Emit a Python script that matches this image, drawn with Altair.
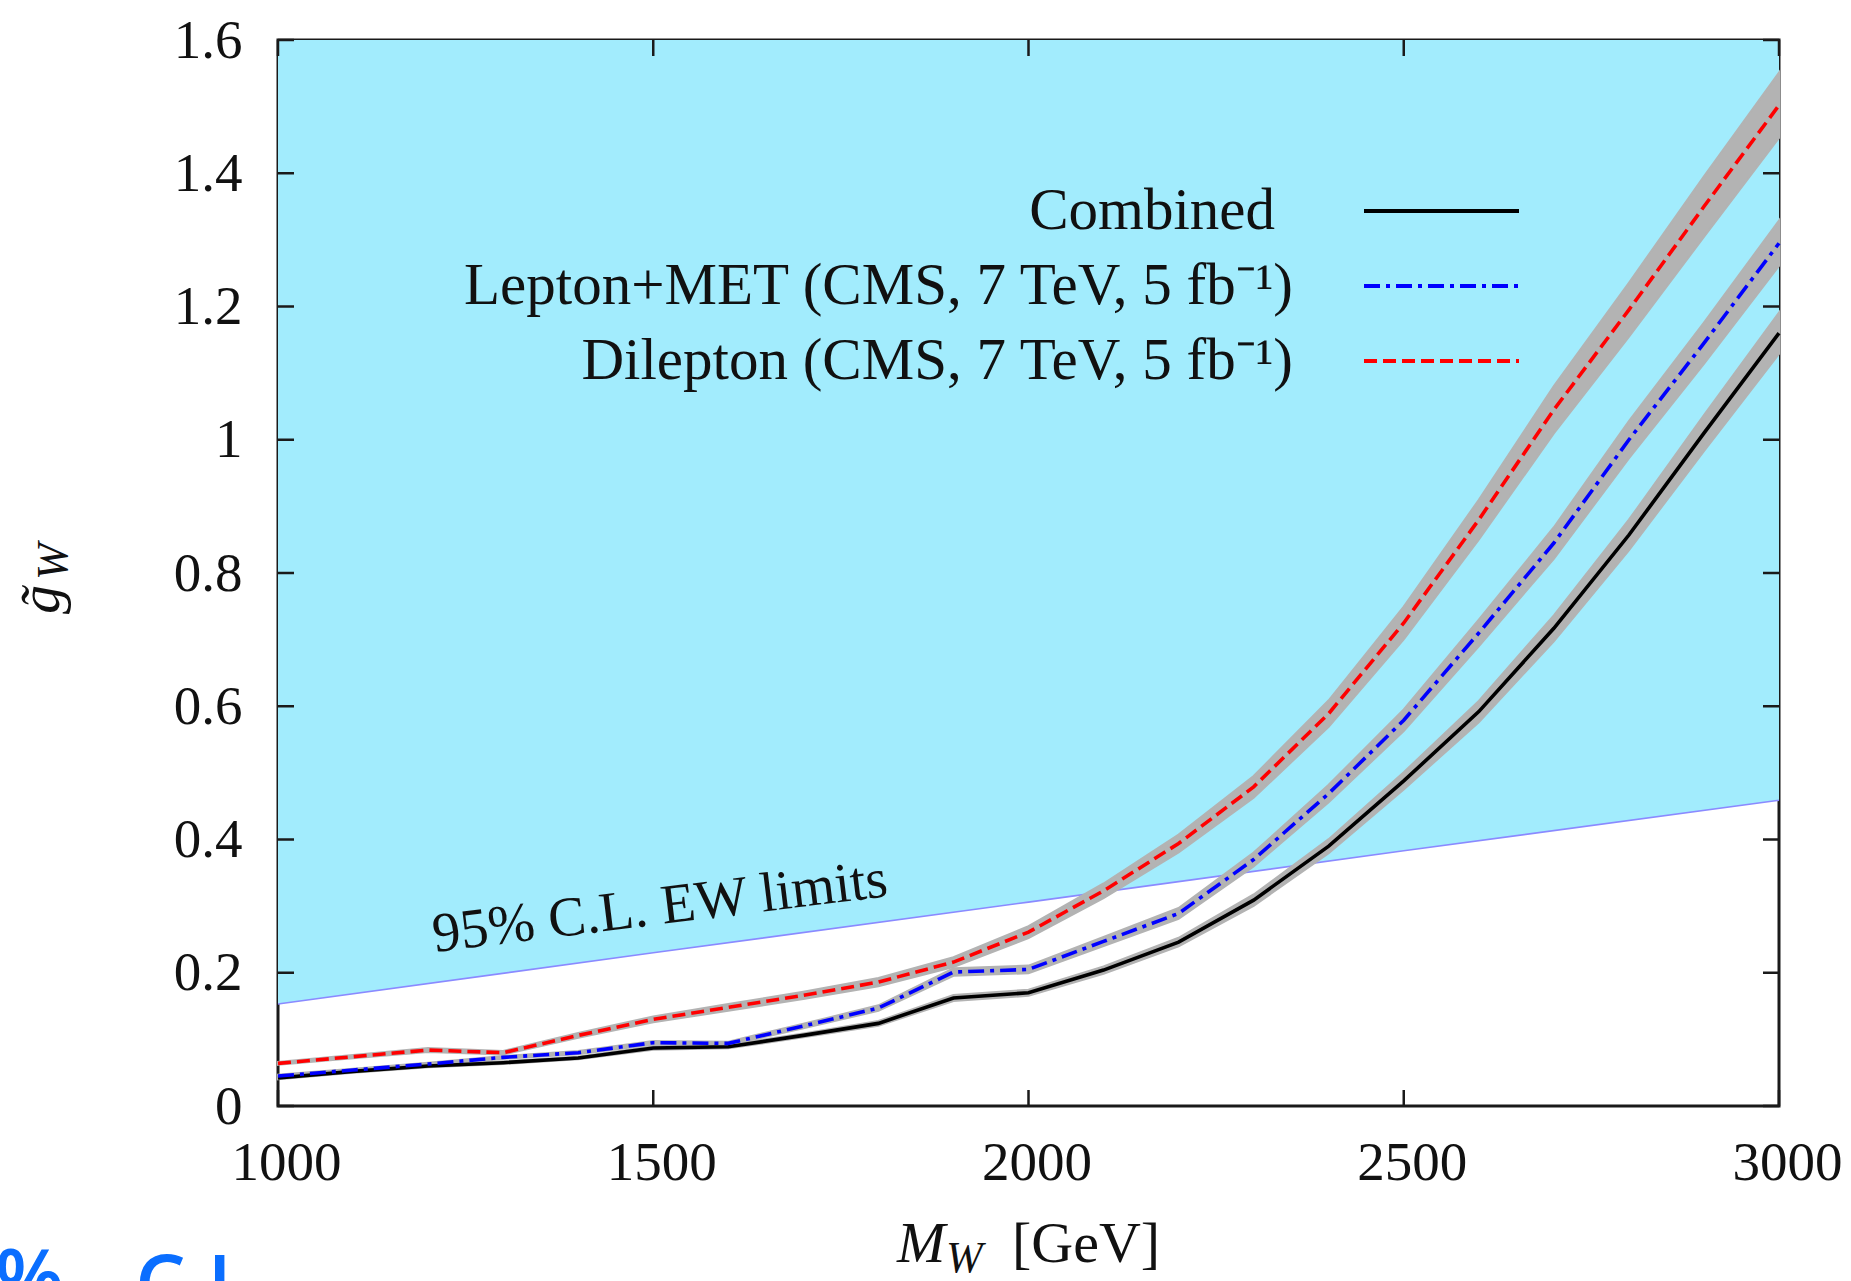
import altair as alt
import pandas as pd

# Resonance mass grid [GeV]
mass = [1000, 1100, 1200, 1300, 1400, 1500, 1600, 1700, 1800, 1900, 2000,
        2100, 2200, 2300, 2400, 2500, 2600, 2700, 2800, 2900, 3000]

# Upper limits on the coupling for each channel
combined = [0.042, 0.052, 0.060, 0.065, 0.072, 0.087, 0.089, 0.106, 0.124, 0.162, 0.170,
            0.204, 0.246, 0.309, 0.390, 0.488, 0.592, 0.717, 0.857, 1.010, 1.160]
lepton_met = [0.045, 0.054, 0.063, 0.073, 0.080, 0.095, 0.094, 0.120, 0.147, 0.201, 0.205,
              0.247, 0.289, 0.370, 0.469, 0.579, 0.710, 0.845, 1.000, 1.145, 1.295]
dilepton = [0.064, 0.074, 0.084, 0.080, 0.106, 0.130, 0.148, 0.166, 0.186, 0.216, 0.261,
            0.323, 0.394, 0.479, 0.589, 0.725, 0.880, 1.045, 1.195, 1.350, 1.502]

# Half-widths of the grey uncertainty bands
combined_err = [0.002, 0.002, 0.002, 0.002, 0.002, 0.0025, 0.0025, 0.003, 0.0035, 0.0045, 0.0045,
                0.0055, 0.0065, 0.0085, 0.0105, 0.013, 0.016, 0.0195, 0.023, 0.027, 0.031]
lepton_met_err = [0.002, 0.002, 0.002, 0.002, 0.0025, 0.0027, 0.0026, 0.0034, 0.0041, 0.0056, 0.0057,
                  0.0069, 0.0081, 0.0104, 0.0131, 0.0162, 0.0199, 0.0237, 0.028, 0.031, 0.034]
dilepton_err = [0.0022, 0.0025, 0.0029, 0.0027, 0.0036, 0.0044, 0.005, 0.0056, 0.0063, 0.0073, 0.0089,
                0.011, 0.0134, 0.0163, 0.02, 0.0247, 0.0299, 0.0355, 0.0406, 0.0455, 0.049]

# 95% C.L. electroweak precision bound
ew_mass = [1000, 1500, 2000, 2500, 3000]
ew_limit = [0.153, 0.230, 0.306, 0.383, 0.459]

x_ticks = [1000, 1500, 2000, 2500, 3000]
y_ticks = [0, 0.2, 0.4, 0.6, 0.8, 1.0, 1.2, 1.4, 1.6]

series_names = ["Combined", "Lepton+MET", "Dilepton"]

FONT = "Liberation Serif"
W, H = 1501, 1066
TICK = 16
DASH_DOT = [16, 6, 4, 6]
DASHED = [13, 6]

rows = []
for name, vals, errs in zip(series_names,
                            [combined, lepton_met, dilepton],
                            [combined_err, lepton_met_err, dilepton_err]):
    for m, v, e in zip(mass, vals, errs):
        rows.append({"series": name, "M": m, "g": v, "lo": v - e, "hi": v + e})
curves = pd.DataFrame(rows)

ew = pd.DataFrame({"M": ew_mass, "g": ew_limit, "top": [1.6] * len(ew_mass)})
xt = pd.DataFrame({"M": x_ticks})
yt = pd.DataFrame({"g": y_ticks})
one = pd.DataFrame({"k": [0]})

x_scale = alt.Scale(domain=[1000, 3000], nice=False, zero=False)
y_scale = alt.Scale(domain=[0, 1.6], nice=False, zero=False)

x_axis = alt.Axis(values=x_ticks, format="d", ticks=False, domain=False, grid=False,
                  labelFont=FONT, labelFontSize=55, labelColor="#111111",
                  labelPadding=30, labelOffset=8, labelFlush=False, labelOverlap=False)
y_axis = alt.Axis(values=y_ticks, format="~g", ticks=False, domain=False, grid=False,
                  labelFont=FONT, labelFontSize=55, labelColor="#111111",
                  labelPadding=36, labelFlush=False, labelOverlap=False)


def X(field):
    return alt.X(f"{field}:Q", scale=x_scale, axis=x_axis, title=None)


def Y(field):
    return alt.Y(f"{field}:Q", scale=y_scale, axis=y_axis, title=None)


# Region excluded by electroweak precision data
excluded = alt.Chart(ew).mark_area(color="#a2ecfd", opacity=1).encode(
    x=X("M"), y=Y("g"), y2=alt.Y2("top:Q"))
ew_line = alt.Chart(ew).mark_line(color="#8a8aff", strokeWidth=1.6).encode(
    x=X("M"), y=Y("g"))

bands = alt.Chart(curves).mark_area(color="#b3b3b3", stroke="#b3b3b3", strokeWidth=2,
                                    opacity=1).encode(
    x=X("M"), y=Y("lo"), y2=alt.Y2("hi:Q"), detail="series:N")


def curve(name, color, dash=None):
    kw = dict(color=color, strokeWidth=3.6, strokeCap="butt")
    if dash:
        kw["strokeDash"] = dash
    return alt.Chart(curves).transform_filter(alt.datum.series == name).mark_line(**kw).encode(
        x=X("M"), y=Y("g"), order="M:Q")


line_comb = curve("Combined", "#000000")
line_lep = curve("Lepton+MET", "#0000ff", DASH_DOT)
line_dil = curve("Dilepton", "#ff0000", DASHED)

# Inward ticks on all four sides
tick_style = dict(color="#1a1a1a", strokeWidth=2.5)
ticks_bottom = alt.Chart(xt).mark_rule(**tick_style).encode(
    x=X("M"), y=alt.value(H), y2=alt.value(H - TICK))
ticks_top = alt.Chart(xt).mark_rule(**tick_style).encode(
    x=X("M"), y=alt.value(0), y2=alt.value(TICK))
ticks_left = alt.Chart(yt).mark_rule(**tick_style).encode(
    y=Y("g"), x=alt.value(0), x2=alt.value(TICK))
ticks_right = alt.Chart(yt).mark_rule(**tick_style).encode(
    y=Y("g"), x=alt.value(W - TICK), x2=alt.value(W))


def label(text, x, y, size=56, align="left", baseline="alphabetic", angle=0,
          style="normal", font=FONT, color="#111111", weight="normal"):
    kw = dict(text=text, font=font, fontSize=size, align=align, baseline=baseline,
              fontStyle=style, color=color, fontWeight=weight)
    if angle:
        kw["angle"] = angle
    return alt.Chart(one).mark_text(**kw).encode(x=alt.value(x), y=alt.value(y))


# Key: labels right-aligned, line samples to their right
key_rows = [171, 246, 321]
key_text = [
    label("Combined", 997, key_rows[0], size=59, align="right", baseline="middle"),
    label("Lepton+MET (CMS, 7 TeV, 5 fb\u207b\u00b9)", 1015, key_rows[1], size=59,
          align="right", baseline="middle"),
    label("Dilepton (CMS, 7 TeV, 5 fb\u207b\u00b9)", 1015, key_rows[2], size=59,
          align="right", baseline="middle"),
]
key_lines = []
for yv, color, dash in zip(key_rows, ["#000000", "#0000ff", "#ff0000"],
                           [None, DASH_DOT, DASHED]):
    kw = dict(color=color, strokeWidth=4, strokeCap="butt")
    if dash:
        kw["strokeDash"] = dash
    key_lines.append(alt.Chart(one).mark_rule(**kw).encode(
        x=alt.value(1086), x2=alt.value(1241), y=alt.value(yv)))

ew_text = label("95% C.L. EW limits", 384, 884, size=56, align="center", angle=353)

# Axis titles built from pieces to get the subscripts
x_title = [
    label("M", 619, 1222, size=58, style="italic"),
    label("W", 668, 1232, size=44, style="italic"),
    label("[GeV]", 734, 1222, size=58),
]
y_title = [
    label("g\u0303", -219, 574, size=58, style="italic", angle=270),
    label("W", -211, 540, size=44, style="italic", angle=270),
]

# Hand-written note at the lower edge
note = [
    label("%", -283, 1266, size=80, font="Open Sans", color="#0a6eff", weight=600),
    label("C.L", -143, 1272, size=80, font="Open Sans", color="#0a6eff", weight=600),
]

chart = alt.layer(
    excluded, ew_line, bands, line_comb, line_lep, line_dil,
    ticks_bottom, ticks_top, ticks_left, ticks_right,
    *key_lines, *key_text, ew_text, *x_title, *y_title, *note,
).properties(
    width=W, height=H,
    padding={"left": 278, "top": 40, "right": 72, "bottom": 175},
    autosize=alt.AutoSizeParams(type="none"),
    background="white",
).configure_view(
    stroke="#1a1a1a", strokeWidth=3,
)

chart.save("out.html", embed_options={"renderer": "svg", "actions": False})
